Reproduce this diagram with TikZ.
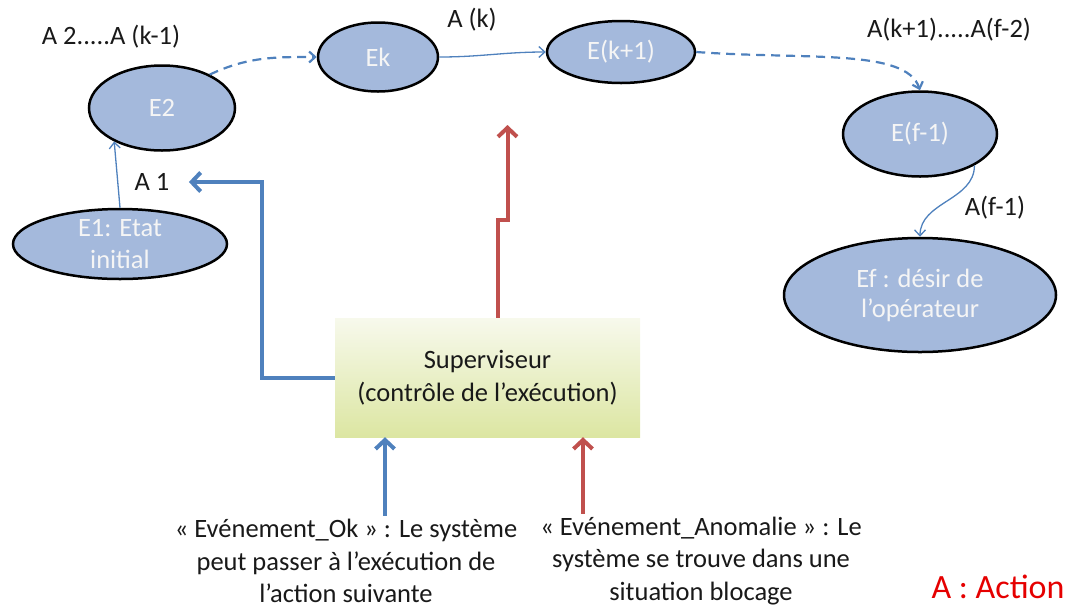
\documentclass[tikz,border=0pt]{standalone}
\usepackage{fontspec}
\setmainfont{Carlito}
\usetikzlibrary{shapes.geometric,arrows.meta}
\definecolor{stateblue}{HTML}{A4B9DC}
\definecolor{linkblue}{HTML}{4F81BD}
\definecolor{alertred}{HTML}{C0504D}
\definecolor{boxtop}{HTML}{F7F9EC}
\definecolor{boxbottom}{HTML}{DCE6A2}
\tikzset{
  state/.style={ellipse,draw=black,line width=2.5pt,fill=stateblue,text=white!96!black,inner sep=0pt,align=center},
  action/.style={-{Straight Barb[length=6pt,width=11pt]},linkblue,line width=1.3pt},
  actiondash/.style={action,line width=2.2pt,dash pattern=on 9pt off 6pt},
  bluepipe/.style={-{Straight Barb[length=9pt,width=19pt]},linkblue,line width=4pt},
  redpipe/.style={-{Straight Barb[length=9pt,width=19pt]},alertred,line width=4pt},
  tag/.style={text=black!90},
  note/.style={text=black!90,align=center}
}
\begin{document}
\begin{tikzpicture}[x=1pt,y=-1pt,font=\fontsize{26.5}{32.5}\selectfont]
  \useasboundingbox (0,0) rectangle (1070,606);
  %% states
  \node[state,minimum width=214pt,minimum height=70pt,inner ysep=-12pt] (e1) at (120,244) {E1: Etat\\initial};
  \node[state,minimum width=146pt,minimum height=85pt] (e2) at (162,108) {E2};
  \node[state,minimum width=120pt,minimum height=69pt] (ek) at (378,57) {Ek};
  \node[state,minimum width=148pt,minimum height=62pt] (ekp) at (621,52) {E(k+1)};
  \node[state,minimum width=154pt,minimum height=85pt] (efm) at (920,134) {E(f-1)};
  \node[state,minimum width=272pt,minimum height=114pt,font=\fontsize{26.5}{30}\selectfont] (ef) at (920,295) {Ef : désir de\\l’opérateur};
  %% action labels
  \node[tag] (lab2) at (111,37) {A 2.....A (k-1)};
  \node[tag] (labk) at (472,20) {A (k)};
  \node[tag] (labkf) at (949,30) {A(k+1).....A(f-2)};
  \node[tag] (labf) at (995,208) {A(f-1)};
  \node[tag] (a1) at (152,182) {A 1};
  %% transitions
  \draw[action] (e1.north) to[out=95,in=-85] (e2.215);
  \draw[actiondash] (e2.35) to[out=25,in=180] (ek.west);
  \draw[action] (ek.east) to[out=0,in=180] (ekp.west);
  \draw[actiondash] (ekp.east) .. controls +(110,8) and +(-14,-42) .. (efm.north);
  \draw[action] (efm.-30) to[out=-90,in=90] (ef.north);
  %% supervisor
  \node[top color=boxtop,bottom color=boxbottom,minimum width=305pt,minimum height=119pt,align=center,text=black!90] (sup) at (487.5,377.5) {Superviseur\\(contrôle de l’exécution)};
  \node[note] (okmsg) at (346,561) {« Evénement\_Ok » : Le système\\peut passer à l’exécution de\\l’action suivante};
  \node[note] (anmsg) at (701,561) {« Evénement\_Anomalie » : Le\\système se trouve dans une\\situation blocage};
  \node[text=red!90!black,font=\fontsize{34}{40}\selectfont] (legend) at (998,587) {A : Action};
  \coordinate (ktip) at (507.5,125);
  %% supervisor links
  \draw[bluepipe] (sup.west) -- ++(-73,0) |- ([xshift=16pt]a1.east);
  \draw[redpipe] ([xshift=10pt]sup.north) -- ++(0,-98) -- ++(10,0) -- (ktip);
  \draw[bluepipe] ([xshift=39pt]okmsg.north) -- ([xshift=39pt]okmsg.north |- sup.south);
  \draw[redpipe] ([xshift=-118pt]anmsg.north) -- ([xshift=-118pt]anmsg.north |- sup.south);
\end{tikzpicture}
\end{document}
